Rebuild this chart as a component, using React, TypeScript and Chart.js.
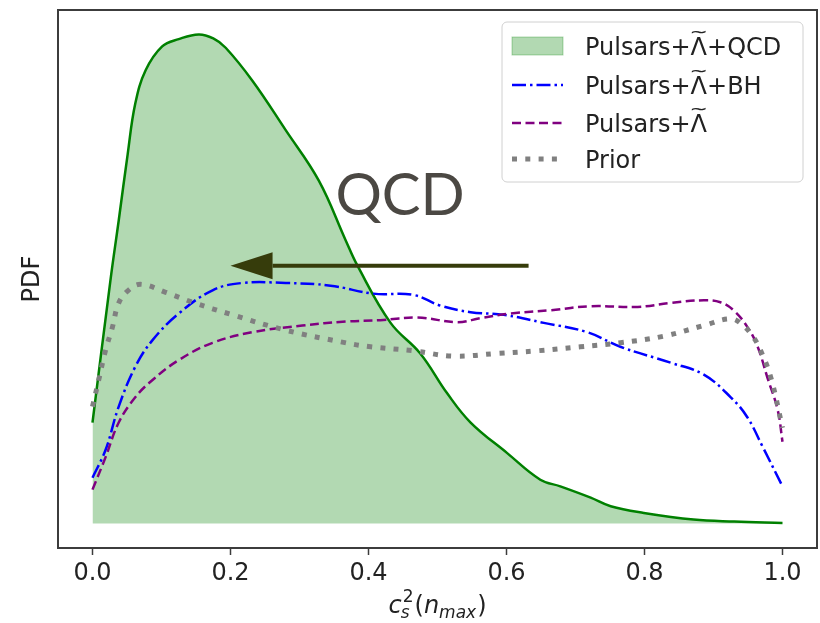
import { useEffect, useRef } from 'react';
import { Chart, registerables } from 'chart.js';

Chart.register(...registerables);

const X_TICKS = [0, 0.2, 0.4, 0.6, 0.8, 1.0];
const LAMBDA_TILDE = '\u039B\u0303';
const LABELS = ['Pulsars+' + LAMBDA_TILDE + '+QCD', 'Pulsars+' + LAMBDA_TILDE + '+BH', 'Pulsars+' + LAMBDA_TILDE, 'Prior'];

const qcdX = [0, 0.026, 0.038, 0.051, 0.062, 0.077, 0.101, 0.125, 0.154, 0.175, 0.193, 0.232, 0.28, 0.328, 0.367, 0.384, 0.432, 0.475, 0.514, 0.548, 0.601, 0.649, 0.678, 0.722, 0.751, 0.799, 0.871, 0.93, 1.0];
const qcdY = [0.76, 1.83, 2.28, 2.78, 3.16, 3.41, 3.59, 3.645, 3.68, 3.65, 3.58, 3.33, 2.96, 2.58, 2.13, 1.94, 1.51, 1.28, 0.98, 0.76, 0.53, 0.33, 0.28, 0.195, 0.13, 0.08, 0.03, 0.015, 0.005];

const bhX = [0, 0.019, 0.038, 0.062, 0.087, 0.125, 0.174, 0.217, 0.28, 0.345, 0.407, 0.465, 0.504, 0.548, 0.596, 0.654, 0.717, 0.765, 0.838, 0.886, 0.925, 0.949, 0.971, 1.0];
const bhY = [0.345, 0.555, 0.88, 1.18, 1.38, 1.58, 1.755, 1.81, 1.81, 1.79, 1.73, 1.72, 1.64, 1.59, 1.57, 1.51, 1.44, 1.33, 1.21, 1.12, 0.95, 0.8, 0.58, 0.28];

const tidalX = [0, 0.019, 0.038, 0.062, 0.087, 0.125, 0.174, 0.232, 0.304, 0.367, 0.417, 0.471, 0.529, 0.562, 0.606, 0.664, 0.722, 0.79, 0.838, 0.886, 0.91, 0.929, 0.949, 0.964, 0.978, 0.993, 1.0];
const tidalY = [0.255, 0.5, 0.76, 0.95, 1.08, 1.23, 1.36, 1.44, 1.49, 1.52, 1.53, 1.55, 1.515, 1.545, 1.58, 1.605, 1.635, 1.63, 1.66, 1.68, 1.665, 1.605, 1.48, 1.33, 1.1, 0.855, 0.615];

const priorX = [0, 0.009, 0.019, 0.029, 0.038, 0.052, 0.07, 0.106, 0.145, 0.203, 0.28, 0.362, 0.403, 0.465, 0.523, 0.587, 0.645, 0.707, 0.765, 0.828, 0.886, 0.925, 0.943, 0.958, 0.968, 0.983, 1.0];
const priorY = [0.88, 1.08, 1.305, 1.48, 1.66, 1.755, 1.8, 1.74, 1.665, 1.57, 1.455, 1.365, 1.33, 1.3, 1.26, 1.28, 1.3, 1.33, 1.36, 1.41, 1.49, 1.54, 1.49, 1.4, 1.305, 1.1, 0.72];

// annotation (data units)
const ARROW_TAIL_X = 0.632;
const ARROW_TIP_X = 0.2;
const ARROW_HEAD_BASE_X = 0.261;
const ARROW_Y = 1.94;
const QCD_TEXT_X = 0.352;
const QCD_TEXT_Y = 2.32;

const pts = (xs: number[], ys: number[]) => xs.map((x, i) => ({ x, y: ys[i] }));

const yPeak = Math.max(...qcdY, ...bhY, ...tidalY, ...priorY);
const Y_MIN = -0.05 * yPeak;
const Y_MAX = 1.05 * yPeak;

const FONT = "'DejaVu Sans', 'Liberation Sans', sans-serif";

function drawLegendLabel(ctx: CanvasRenderingContext2D, label: string, x: number, y: number) {
  ctx.font = `24px ${FONT}`;
  ctx.textAlign = 'left';
  ctx.textBaseline = 'alphabetic';
  const parts = label.split(LAMBDA_TILDE);
  let cx = x;
  parts.forEach((p, i) => {
    if (p) {
      ctx.fillText(p, cx, y);
      cx += ctx.measureText(p).width;
    }
    if (i < parts.length - 1) {
      const wl = ctx.measureText('\u039B').width;
      ctx.fillText('\u039B', cx, y);
      // wide tilde above
      const wt = ctx.measureText('~').width;
      ctx.save();
      ctx.translate(cx + wl / 2, y - 22);
      ctx.scale((wl + 2) / wt, 0.75);
      ctx.textBaseline = 'middle';
      ctx.textAlign = 'center';
      ctx.fillText('~', 0, 0);
      ctx.restore();
      cx += wl;
    }
  });
}

const overlay = {
  id: 'overlay',
  afterDraw(chart: any) {
    const ctx = chart.ctx as CanvasRenderingContext2D;
    const ca = chart.chartArea;
    const xs = chart.scales.x;
    const ys = chart.scales.y;
    ctx.save();

    // frame
    ctx.strokeStyle = '#3c3c3c';
    ctx.lineWidth = 2;
    ctx.strokeRect(ca.left, ca.top, ca.right - ca.left, ca.bottom - ca.top);

    // Y title
    ctx.save();
    ctx.translate(33, (ca.top + ca.bottom) / 2);
    ctx.rotate(-Math.PI / 2);
    ctx.fillStyle = '#222';
    ctx.font = `24px ${FONT}`;
    ctx.textAlign = 'center';
    ctx.textBaseline = 'middle';
    ctx.fillText('PDF', 0, 0);
    ctx.restore();

    // X title (math-style)
    const B = 613;
    const F = 24, S = 17;
    const it = (s: number) => `italic ${s}px ${FONT}`;
    const up = (s: number) => `${s}px ${FONT}`;
    const w = (t: string, f: string) => { ctx.font = f; return ctx.measureText(t).width; };
    const wc = w('c', it(F));
    const w2 = w('2', up(S));
    const wsub = w('s', it(S));
    const wl = w('(', up(F));
    const wn = w('n', it(F));
    const wm = w('max', it(S));
    const wr = w(')', up(F));
    const total = wc + Math.max(w2, wsub) + 2 + wl + wn + wm + 1 + wr;
    let cx = (ca.left + ca.right) / 2 - total / 2;
    ctx.fillStyle = '#222';
    ctx.textAlign = 'left';
    ctx.textBaseline = 'alphabetic';
    ctx.font = it(F); ctx.fillText('c', cx, B); cx += wc;
    ctx.font = up(S); ctx.fillText('2', cx + 1, B - 11);
    ctx.font = it(S); ctx.fillText('s', cx - 1, B + 5);
    cx += Math.max(w2, wsub) + 2;
    ctx.font = up(F); ctx.fillText('(', cx, B); cx += wl;
    ctx.font = it(F); ctx.fillText('n', cx, B); cx += wn;
    ctx.font = it(S); ctx.fillText('max', cx, B + 5); cx += wm + 1;
    ctx.font = up(F); ctx.fillText(')', cx, B);

    // legend
    const lw = 301, lh = 160;
    const lx = ca.right - 14 - lw;
    const ly = ca.top + 12;
    ctx.beginPath();
    ctx.roundRect(lx, ly, lw, lh, 5);
    ctx.fillStyle = 'rgba(255,255,255,0.8)';
    ctx.fill();
    ctx.strokeStyle = '#d0d0d0';
    ctx.lineWidth = 1;
    ctx.stroke();
    const rowY = [ly + 24, ly + 63, ly + 101, ly + 137];
    const hx0 = lx + 10, hx1 = lx + 61, tx = lx + 83;
    chart.data.datasets.forEach((ds: any, i: number) => {
      const y = rowY[i];
      if (i === 0) {
        ctx.fillStyle = ds.backgroundColor;
        ctx.fillRect(hx0, y - 9, hx1 - hx0, 18);
        ctx.strokeStyle = ds.backgroundColor;
        ctx.lineWidth = 1;
        ctx.strokeRect(hx0, y - 9, hx1 - hx0, 18);
      } else {
        ctx.save();
        ctx.strokeStyle = ds.borderColor;
        ctx.lineWidth = ds.borderWidth;
        ctx.setLineDash(ds.borderDash || []);
        ctx.beginPath();
        ctx.moveTo(hx0, y);
        ctx.lineTo(hx1, y);
        ctx.stroke();
        ctx.restore();
      }
      ctx.fillStyle = '#222';
      drawLegendLabel(ctx, ds.label, tx, y + 9);
    });

    // arrow annotation
    const ay = ys.getPixelForValue(ARROW_Y);
    const tail = xs.getPixelForValue(ARROW_TAIL_X);
    const tip = xs.getPixelForValue(ARROW_TIP_X);
    const base = xs.getPixelForValue(ARROW_HEAD_BASE_X);
    ctx.strokeStyle = '#363c0b';
    ctx.fillStyle = '#363c0b';
    ctx.lineWidth = 4;
    ctx.beginPath();
    ctx.moveTo(tail, ay);
    ctx.lineTo(base, ay);
    ctx.stroke();
    ctx.beginPath();
    ctx.moveTo(tip, ay);
    ctx.lineTo(base, ay - 13.5);
    ctx.lineTo(base, ay + 13.5);
    ctx.closePath();
    ctx.fill();

    // QCD text
    ctx.fillStyle = '#4b4843';
    ctx.font = `58px Lato, 'Open Sans', sans-serif`;
    ctx.textAlign = 'left';
    ctx.textBaseline = 'alphabetic';
    ctx.fillText('QCD', xs.getPixelForValue(QCD_TEXT_X), ys.getPixelForValue(QCD_TEXT_Y));

    ctx.restore();
  },
};

export default function App() {
  const ref = useRef<HTMLCanvasElement>(null);
  useEffect(() => {
    if (!ref.current) return;
    const common = { pointRadius: 0, tension: 0.4, fill: false };
    const chart = new Chart(ref.current, {
      type: 'line',
      data: {
        datasets: [
          {
            ...common,
            label: LABELS[0],
            data: pts(qcdX, qcdY),
            borderColor: '#008000',
            backgroundColor: 'rgba(0,128,0,0.3)',
            borderWidth: 2.5,
            fill: 'origin',
            order: 4,
          },
          {
            ...common,
            label: LABELS[1],
            data: pts(bhX, bhY),
            borderColor: '#0000ff',
            borderWidth: 2.5,
            borderDash: [14, 4, 2.5, 4],
            order: 3,
          },
          {
            ...common,
            label: LABELS[2],
            data: pts(tidalX, tidalY),
            borderColor: '#800080',
            borderWidth: 2.5,
            borderDash: [9, 4.5],
            order: 2,
          },
          {
            ...common,
            label: LABELS[3],
            data: pts(priorX, priorY),
            borderColor: '#808080',
            borderWidth: 5,
            borderDash: [5, 8.3],
            order: 1,
          },
        ],
      },
      options: {
        responsive: false,
        animation: false,
        layout: { padding: { left: 58, top: 10, right: 3, bottom: 0 } },
        plugins: { legend: { display: false }, tooltip: { enabled: false } },
        scales: {
          x: {
            type: 'linear',
            min: -0.05,
            max: 1.05,
            afterBuildTicks: (s: any) => { s.ticks = X_TICKS.map((v) => ({ value: v })); },
            afterFit: (s: any) => { s.height = 75; },
            ticks: {
              callback: (v: any) => Number(v).toFixed(1),
              font: { family: FONT, size: 24 },
              color: '#222',
              padding: 4,
              maxRotation: 0,
              autoSkip: false,
            },
            grid: { drawOnChartArea: false, drawTicks: true, tickLength: 7, tickColor: '#3c3c3c', tickWidth: 1.5 },
            border: { display: false },
          },
          y: {
            display: false,
            min: Y_MIN,
            max: Y_MAX,
          },
        },
      },
      plugins: [overlay],
    } as any);
    return () => chart.destroy();
  }, []);
  return (
    <div style={{ position: 'fixed', left: 0, top: 0, width: 820, height: 623, background: '#fff' }}>
      <canvas ref={ref} width={820} height={623} />
    </div>
  );
}
